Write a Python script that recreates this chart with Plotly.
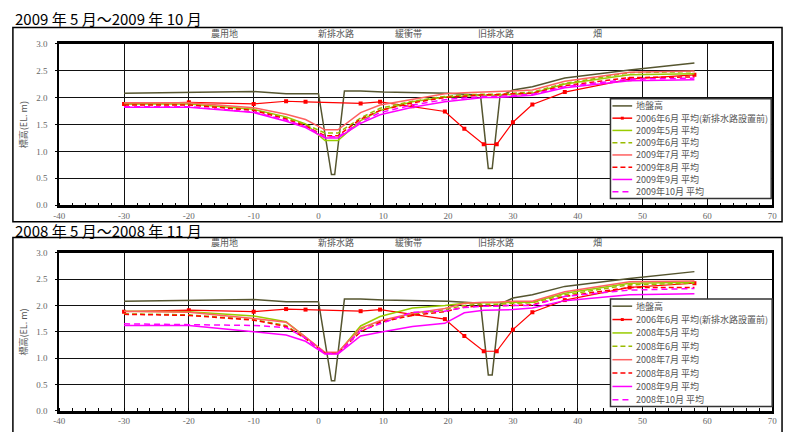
import plotly.graph_objects as go

W, H = 790, 432

# ---------------- data ----------------
X = [-30, -20, -10, -5, -2, 1, 3, 6.5, 9.5, 14.5, 19.5, 22.5, 25.5, 27.5, 30, 33, 38, 48, 58]

ground_x = [-30, -20, -10, -5, 0, 2, 2.5, 4, 6.5, 10, 20, 25, 26.2, 26.8, 28, 30, 33, 38, 48, 58]
ground_y = [2.08, 2.09, 2.11, 2.07, 2.07, 0.57, 0.57, 2.12, 2.12, 2.10, 2.08, 2.04, 0.68, 0.68, 2.02, 2.14, 2.20, 2.36, 2.51, 2.64]

x2006 = [-30, -20, -10, -5, -2, 6.5, 9.5, 14.5, 19.5, 22.5, 25.5, 27.5, 30, 33, 38, 48, 58]
y2006 = [1.88, 1.91, 1.88, 1.93, 1.92, 1.89, 1.92, 1.835, 1.74, 1.42, 1.13, 1.13, 1.54, 1.87, 2.10, 2.34, 2.42]

y2009_05 = [1.88, 1.88, 1.78, 1.64, 1.51, 1.20, 1.20, 1.57, 1.76, 1.92, 2.01, 2.03, 2.04, 2.04, 2.06, 2.08, 2.25, 2.42, 2.44]
y2009_06 = [1.87, 1.87, 1.77, 1.62, 1.50, 1.34, 1.34, 1.62, 1.80, 1.93, 2.02, 2.05, 2.06, 2.06, 2.08, 2.10, 2.26, 2.46, 2.48]
y2009_07 = [1.90, 1.90, 1.81, 1.69, 1.59, 1.40, 1.40, 1.72, 1.86, 1.97, 2.07, 2.09, 2.10, 2.10, 2.12, 2.14, 2.30, 2.47, 2.49]
y2009_08 = [1.86, 1.86, 1.76, 1.60, 1.47, 1.29, 1.29, 1.60, 1.76, 1.90, 2.00, 2.03, 2.05, 2.05, 2.07, 2.08, 2.22, 2.37, 2.38]
y2009_09 = [1.82, 1.82, 1.72, 1.56, 1.44, 1.25, 1.25, 1.52, 1.68, 1.82, 1.92, 1.96, 2.00, 2.00, 2.02, 2.04, 2.18, 2.31, 2.33]
y2009_10 = [1.83, 1.83, 1.73, 1.58, 1.46, 1.27, 1.27, 1.55, 1.72, 1.86, 1.96, 1.99, 2.02, 2.02, 2.04, 2.06, 2.20, 2.34, 2.36]

y2008_05 = [1.89, 1.88, 1.80, 1.69, 1.40, 1.10, 1.10, 1.61, 1.79, 1.95, 2.00, 2.04, 2.05, 2.05, 2.06, 2.06, 2.23, 2.42, 2.44]
y2008_06 = [1.84, 1.82, 1.73, 1.62, 1.38, 1.10, 1.10, 1.55, 1.70, 1.83, 1.92, 2.00, 2.02, 2.02, 2.04, 2.05, 2.20, 2.39, 2.42]
y2008_07 = [1.89, 1.87, 1.75, 1.68, 1.40, 1.11, 1.11, 1.57, 1.71, 1.85, 1.94, 2.04, 2.06, 2.06, 2.08, 2.08, 2.26, 2.45, 2.46]
y2008_08 = [1.83, 1.81, 1.72, 1.60, 1.37, 1.09, 1.09, 1.50, 1.68, 1.81, 1.88, 1.97, 1.99, 1.99, 2.00, 2.01, 2.17, 2.34, 2.34]
y2008_09 = [1.62, 1.62, 1.50, 1.44, 1.32, 1.08, 1.08, 1.42, 1.49, 1.60, 1.66, 1.86, 1.91, 1.91, 1.92, 1.95, 2.09, 2.20, 2.22]
y2008_10 = [1.65, 1.64, 1.62, 1.58, 1.38, 1.09, 1.09, 1.52, 1.65, 1.87, 1.89, 1.96, 1.985, 1.985, 2.00, 2.00, 2.17, 2.29, 2.32]

x_ticks = [-40, -30, -20, -10, 0, 10, 20, 30, 40, 50, 60, 70]
y_ticks = [0.0, 0.5, 1.0, 1.5, 2.0, 2.5, 3.0]
zone_labels = ["農用地", "新排水路", "緩衝帯", "旧排水路", "畑"]
zone_px = [222, 335, 408, 497, 600]

panel_titles = ["2009 年 5 月～2009 年 10 月", "2008 年 5 月～2008 年 11 月"]
ground_name = "地盤高"
name2006 = "2006年6月 平均(新排水路設置前)"
months = ["5月", "6月", "7月", "8月", "9月", "10月"]
top_series = [y2009_05, y2009_06, y2009_07, y2009_08, y2009_09, y2009_10]
bot_series = [y2008_05, y2008_06, y2008_07, y2008_08, y2008_09, y2008_10]

# ---------------- styles ----------------
GROUND_C = "#55552f"
RED = "#ff0000"
styles = [
    dict(color="#99cc00", dash="solid"),
    dict(color="#99bb00", dash="5px,3px"),
    dict(color="#ff6060", dash="solid"),
    dict(color="#ff0000", dash="5px,3px"),
    dict(color="#ff00ff", dash="solid"),
    dict(color="#ff00ff", dash="6px,4px"),
]

CJK = "Noto Sans CJK JP"

def px(x):
    return x / W

def py(y):
    return 1 - y / H

fig = go.Figure()

panels = [
    dict(xa="x", ya="y", series=top_series, year="2009", plot_top=39.5, plot_bot=205,
         frame=(7, 23, 787, 222), title_y=14, zone_y=29, legend=(613, 96, 776, 198), leg_y0=103.3, leg_dy=12.55),
    dict(xa="x2", ya="y2", series=bot_series, year="2008", plot_top=253.5, plot_bot=415.5,
         frame=(7, 238, 787, 440), title_y=231, zone_y=243.5, legend=(613, 301, 777, 411), leg_y0=308.3, leg_dy=13.7),
]

shapes = []
annotations = []

for i, p in enumerate(panels):
    # ground
    fig.add_trace(go.Scatter(x=ground_x, y=ground_y, xaxis=p["xa"], yaxis=p["ya"], mode="lines",
                             line=dict(color=GROUND_C, width=1.5), showlegend=False))
    # 2006
    fig.add_trace(go.Scatter(x=x2006, y=y2006, xaxis=p["xa"], yaxis=p["ya"], mode="lines+markers",
                             line=dict(color=RED, width=1.2),
                             marker=dict(symbol="square", size=4, color=RED), showlegend=False))
    for s, st in zip(p["series"], styles):
        fig.add_trace(go.Scatter(x=X, y=s, xaxis=p["xa"], yaxis=p["ya"], mode="lines",
                                 line=dict(color=st["color"], width=1.5, dash=st["dash"]), showlegend=False))

    # frame
    fx0, fy0, fx1, fy1 = p["frame"]
    shapes.append(dict(type="rect", xref="paper", yref="paper", x0=px(fx0), y0=py(fy0), x1=px(fx1), y1=py(fy1),
                       line=dict(color="black", width=1.5), layer="below"))
    # title
    annotations.append(dict(text=panel_titles[i], xref="paper", yref="paper", x=px(7), y=py(p["title_y"]),
                            xanchor="left", yanchor="middle", showarrow=False,
                            font=dict(family=CJK, size=15, color="black")))
    # zone labels
    for lab, zx in zip(zone_labels, zone_px):
        annotations.append(dict(text=lab, xref="paper", yref="paper", x=px(zx), y=py(p["zone_y"]),
                                xanchor="center", yanchor="middle", showarrow=False,
                                font=dict(family=CJK, size=9, color="#555")))
    # y title
    annotations.append(dict(text="標高(EL. m)", xref="paper", yref="paper", x=px(18),
                            y=py((p["plot_top"] + p["plot_bot"]) / 2), textangle=-90,
                            xanchor="center", yanchor="middle", showarrow=False,
                            font=dict(family=CJK, size=9, color="#555")))
    # legend (drawn manually for compact spacing)
    lx0, ly0, lx1, ly1 = p["legend"]
    shapes.append(dict(type="rect", xref="paper", yref="paper", x0=px(lx0), y0=py(ly0), x1=px(lx1), y1=py(ly1),
                       line=dict(color="#333", width=1.5), fillcolor="white", layer="above"))
    names = [ground_name, name2006] + [p["year"] + "年" + m + " 平均" for m in months]
    cols = [GROUND_C, RED] + [st["color"] for st in styles]
    dashes = ["solid", "solid"] + [st["dash"] for st in styles]
    for k, (nm, c, d) in enumerate(zip(names, cols, dashes)):
        yy = p["leg_y0"] + k * p["leg_dy"]
        shapes.append(dict(type="line", xref="paper", yref="paper", x0=px(615), x1=px(635), y0=py(yy), y1=py(yy),
                           line=dict(color=c, width=1.5, dash=d), layer="above"))
        if k == 1:
            shapes.append(dict(type="rect", xref="paper", yref="paper", x0=px(623.5), x1=px(626.5),
                               y0=py(yy - 1.5), y1=py(yy + 1.5), line=dict(color=RED, width=0),
                               fillcolor=RED, layer="above"))
        annotations.append(dict(text=nm, xref="paper", yref="paper", x=px(636.5), y=py(yy),
                                xanchor="left", yanchor="middle", showarrow=False,
                                font=dict(family=CJK, size=9, color="#555")))

xdom = [px(54), px(777)]
axis_common_x = dict(range=[-40, 70], tickvals=x_ticks, ticktext=[str(v) for v in x_ticks],
                     showgrid=True, gridcolor="#111", gridwidth=1, zeroline=False,
                     showline=True, linecolor="black", linewidth=2.5, mirror=True,
                     ticks="", tickfont=dict(family="Liberation Serif", size=9, color="#666"),
                     minor=dict(ticks="inside", dtick=2, ticklen=3, tickcolor="black", showgrid=False),
                     domain=xdom, fixedrange=True)
axis_common_y = dict(range=[0, 3], tickvals=y_ticks, ticktext=["%.1f" % v for v in y_ticks],
                     showgrid=True, gridcolor="#111", gridwidth=1, zeroline=False,
                     showline=True, linecolor="black", linewidth=2, mirror=True,
                     ticks="outside", ticklen=2, tickcolor="black",
                     tickfont=dict(family="Liberation Serif", size=9, color="#666"),
                     ticklabelstandoff=6, fixedrange=True)

fig.update_layout(
    width=W, height=H, margin=dict(l=0, r=0, t=0, b=0),
    paper_bgcolor="white", plot_bgcolor="white", showlegend=False,
    xaxis=dict(axis_common_x, anchor="y"),
    yaxis=dict(axis_common_y, anchor="x", domain=[py(205), py(39.5)]),
    xaxis2=dict(axis_common_x, anchor="y2"),
    yaxis2=dict(axis_common_y, anchor="x2", domain=[py(415.5), py(253.5)]),
    shapes=shapes, annotations=annotations,
)

fig.write_html("out.html")
